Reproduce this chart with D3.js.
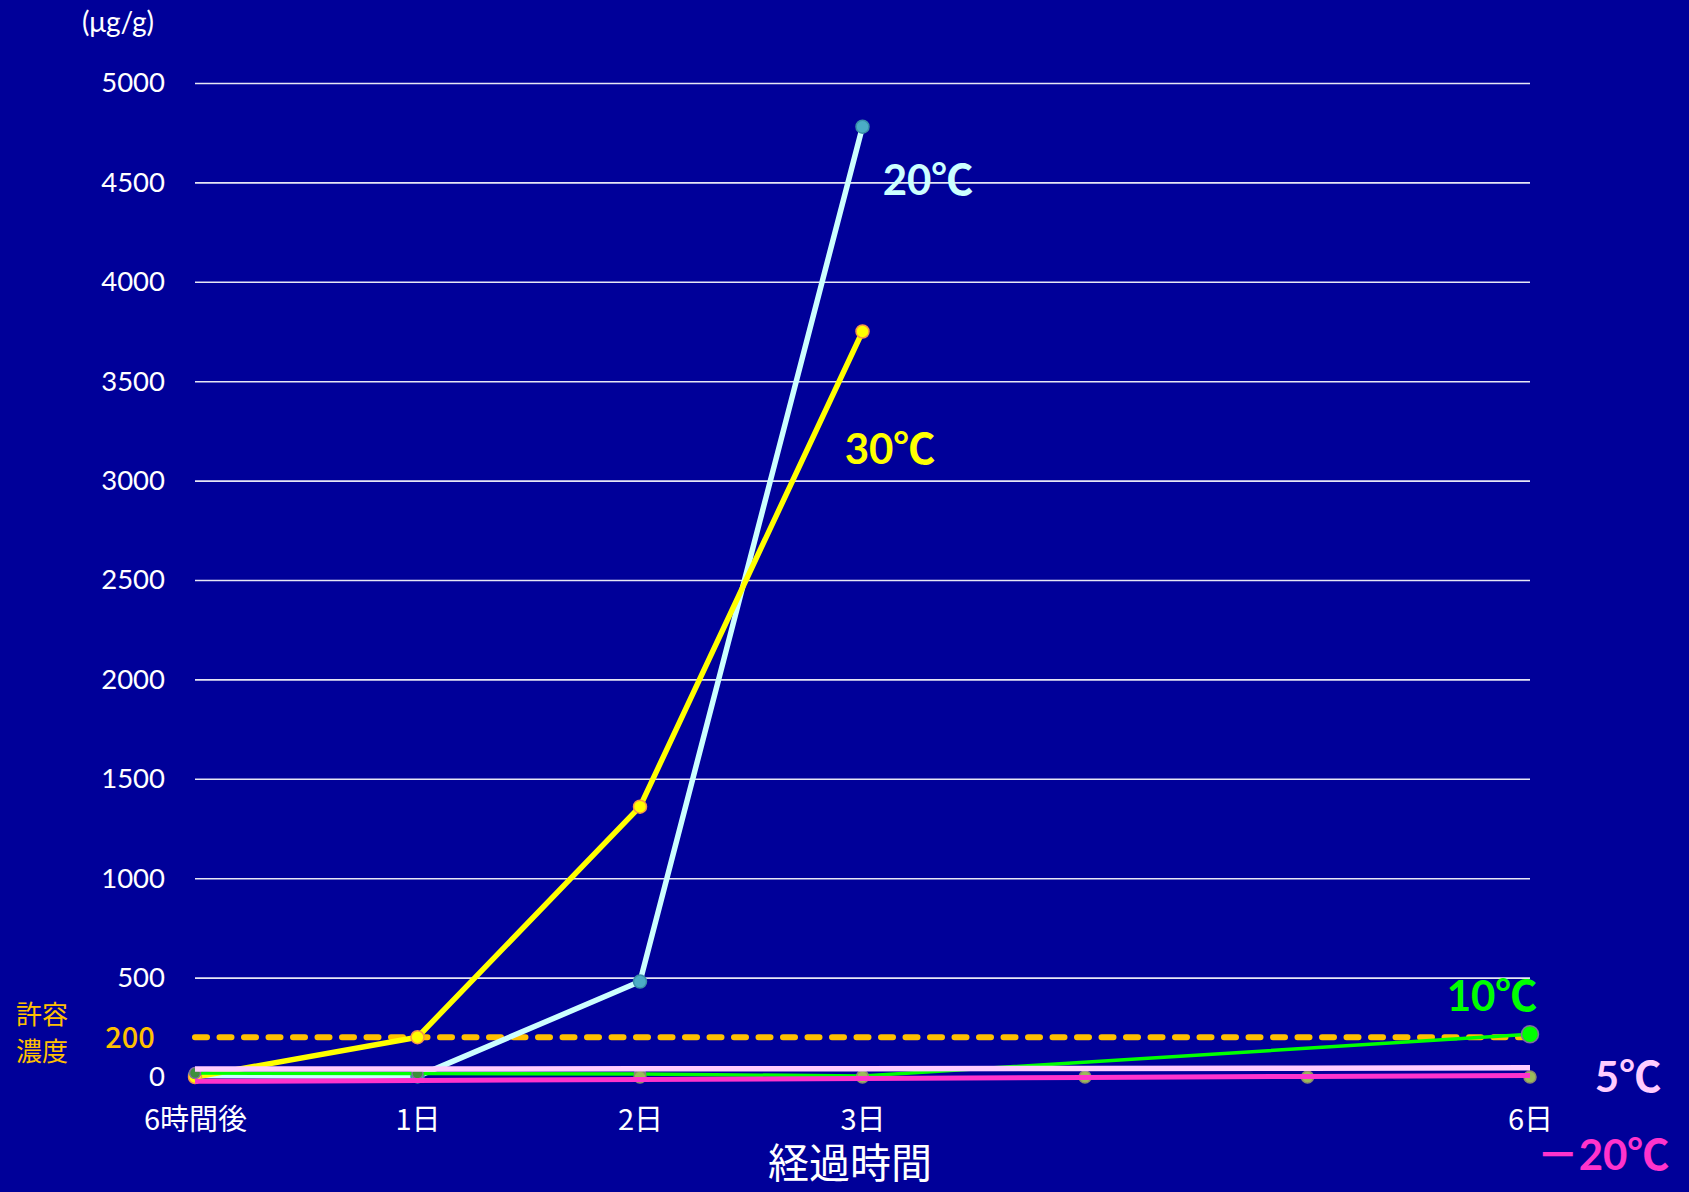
<!DOCTYPE html>
<html>
<head>
<meta charset="utf-8">
<script src="https://cdn.jsdelivr.net/npm/d3@7"></script>
<style>
  html, body { margin: 0; padding: 0; background: #000099; }
  svg { display: block; }
</style>
</head>
<body>
<svg id="chart" width="1689" height="1192"></svg>
<script>
// Elapsed-time categories (4日 and 5日 are plotted but not labelled)
const categories = ["6時間後", "1日", "2日", "3日", "4日", "5日", "6日"];
const tickLabels = ["6時間後", "1日", "2日", "3日", "", "", "6日"];
const yTicks = [0, 500, 1000, 1500, 2000, 2500, 3000, 3500, 4000, 4500, 5000];

// Histamine concentration (μg/g) by storage temperature
const t30 = [0, 200, 1360, 3750, null, null, null];
const t20 = [8, 3, 480, 4780, null, null, null];
const t10 = [20, 18, 15, 5, null, null, 215];
const t5 = [40, 40, 41, 42, 43, 44, 46];
const tMinus20 = [-22, -18, -12, -8, -2, 3, 8];
const tMinus20Points = [null, null, 0, 0, 0, 0, 0];
const limitValue = 200;

const svg = d3.select("#chart");
const W = 1689, H = 1192;
svg.append("rect").attr("width", W).attr("height", H).attr("fill", "#000099");

const x = d3.scalePoint().domain(categories).range([195, 1530]);
const y = d3.scaleLinear().domain([0, 5000]).range([1077, 83]);

// Horizontal gridlines and value labels
const yAxis = d3.axisLeft(y).tickValues(yTicks).tickFormat(d3.format("d"))
  .tickSize(-(1530 - 195)).tickPadding(30);
const gy = svg.append("g").attr("transform", "translate(195,0)").call(yAxis);
gy.select(".domain").remove();
gy.selectAll(".tick line")
  .attr("stroke", d => d === 0 ? "none" : "#e6e6f5")
  .attr("stroke-width", 1.6);
gy.selectAll(".tick text")
  .attr("fill", "#ffffff")
  .attr("font-family", "Lato, 'Open Sans', sans-serif")
  .attr("font-size", 27.5);

// Category axis
const xAxis = d3.axisBottom(x).tickFormat((d, i) => tickLabels[i]).tickSize(0).tickPadding(0);
const gx = svg.append("g").attr("transform", "translate(0,1120)").call(xAxis);
gx.select(".domain").remove();
gx.selectAll(".tick text")
  .attr("fill", "#ffffff")
  .attr("dy", "0.36em")
  .attr("font-family", "'Noto Sans CJK JP', sans-serif")
  .attr("font-size", 29);

// Unit label
svg.append("text").attr("x", 118).attr("y", 32).attr("text-anchor", "middle")
  .attr("fill", "#ffffff").attr("font-family", "Lato, sans-serif").attr("font-size", 28)
  .text("(μg/g)");

// Axis title
svg.append("text").attr("x", 850).attr("y", 1178).attr("text-anchor", "middle")
  .attr("fill", "#ffffff").attr("font-family", "'Noto Sans CJK JP', sans-serif").attr("font-size", 41)
  .text("経過時間");

// Permitted-concentration reference line at 200
svg.append("line")
  .attr("x1", x(categories[0])).attr("x2", x(categories[categories.length - 1]))
  .attr("y1", y(limitValue)).attr("y2", y(limitValue))
  .attr("stroke", "#FFC000").attr("stroke-width", 6)
  .attr("stroke-linecap", "round").attr("stroke-dasharray", "12 12.5");

svg.append("text").attr("x", 130).attr("y", y(limitValue)).attr("dy", "0.36em").attr("text-anchor", "middle")
  .attr("fill", "#FFC000").attr("font-family", "'Noto Sans CJK JP', sans-serif").attr("font-size", 29)
  .attr("font-weight", 500).text(limitValue);
svg.append("text").attr("x", 42).attr("y", 1024).attr("text-anchor", "middle")
  .attr("fill", "#FFC000").attr("font-family", "'Noto Sans CJK JP', sans-serif").attr("font-size", 26)
  .text("許容");
svg.append("text").attr("x", 42).attr("y", 1061).attr("text-anchor", "middle")
  .attr("fill", "#FFC000").attr("font-family", "'Noto Sans CJK JP', sans-serif").attr("font-size", 26)
  .text("濃度");

function drawSeries(values, lineColor, width, marker) {
  const pts = values.map((v, i) => ({ c: categories[i], v })).filter(d => d.v !== null);
  const line = d3.line().x(d => x(d.c)).y(d => y(d.v));
  if (lineColor) {
    svg.append("path").datum(pts).attr("d", line)
      .attr("fill", "none").attr("stroke", lineColor).attr("stroke-width", width)
      .attr("stroke-linejoin", "round");
  }
  if (marker) {
    svg.append("g").selectAll("circle").data(pts).join("circle")
      .attr("cx", d => x(d.c)).attr("cy", d => y(d.v))
      .attr("r", (d, i) => marker.r(i))
      .attr("fill", (d, i) => marker.fill(i))
      .attr("stroke", marker.stroke).attr("stroke-width", 1.5);
  }
}

drawSeries(t20, "#CCFFFF", 5.5, { r: () => 6.5, fill: () => "#4BACC6", stroke: "#3a8fa8" });
drawSeries(t30, "#FFFF00", 5.5, { r: () => 6.5, fill: () => "#FFFF00", stroke: "#F79646" });
drawSeries(t10, "#00FF00", 3.5, {
  r: i => i === 4 ? 8.5 : 5.5,
  fill: i => i === 4 ? "#00FF00" : "#3d8f3d",
  stroke: "#7f6f9f"
});
drawSeries(tMinus20Points, null, 0,
  { r: () => 6, fill: () => "#9BBB59", stroke: "#8c8c6c" });
drawSeries(t5, "#FFCCFF", 5.5, null);
drawSeries(tMinus20, "#FF33CC", 5, null);

// Series labels
const labelFont = "Lato, 'Noto Sans CJK JP', sans-serif";
const seriesLabels = [
  { text: "20℃", x: 928, y: 180, color: "#CCFFFF" },
  { text: "30℃", x: 890, y: 449, color: "#FFFF00" },
  { text: "10℃", x: 1492, y: 996, color: "#00FF00" },
  { text: "5℃", x: 1628, y: 1077, color: "#FFCCFF" },
  { text: "－20℃", x: 1603, y: 1155, color: "#FF33CC" }
];
svg.append("g").selectAll("text").data(seriesLabels).join("text")
  .attr("x", d => d.x).attr("y", d => d.y).attr("dy", "0.36em")
  .attr("text-anchor", "middle").attr("fill", d => d.color)
  .attr("font-family", labelFont).attr("font-weight", 700).attr("font-size", 42)
  .text(d => d.text);
</script>
</body>
</html>
